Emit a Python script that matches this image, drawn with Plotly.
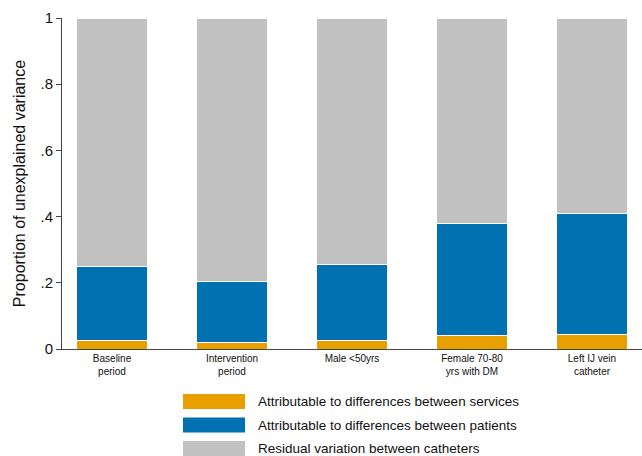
import plotly.graph_objects as go

categories = ["Baseline<br>period", "Intervention<br>period", "Male &lt;50yrs",
              "Female 70-80<br>yrs with DM", "Left IJ vein<br>catheter"]
services = [0.025, 0.021, 0.027, 0.041, 0.044]
patients_top = [0.248, 0.203, 0.256, 0.378, 0.41]
patients = [t - s for t, s in zip(patients_top, services)]
residual = [1 - t for t in patients_top]

series_names = ["Attributable to differences between services",
                "Attributable to differences between patients",
                "Residual variation between catheters"]
series_colors = ["#E8A000", "#0071B1", "#C1C1C1"]
series_vals = [services, patients, residual]

x = list(range(len(categories)))
fig = go.Figure()
for name, col, vals in zip(series_names, series_colors, series_vals):
    fig.add_trace(go.Bar(x=x, y=vals, name=name, marker=dict(color=col, line=dict(color="white", width=1)),
                         width=0.59, showlegend=False))

fig.update_layout(
    barmode="stack",
    width=642, height=456,
    margin=dict(l=62, r=0, t=18, b=107),
    plot_bgcolor="white", paper_bgcolor="white",
    font=dict(family="Liberation Sans, Arial, sans-serif", color="#111"),
    xaxis=dict(range=[-0.417, 4.417], tickvals=x, ticktext=categories, showline=True,
               linecolor="#444", linewidth=1, ticks="", tickfont=dict(size=10),
               showgrid=False, zeroline=False),
    yaxis=dict(range=[0, 1], tickvals=[0, 0.2, 0.4, 0.6, 0.8, 1],
               ticktext=["0", ".2", ".4", ".6", ".8", "1"], showline=True, linecolor="#444",
               linewidth=1, ticks="outside", ticklen=5, tickcolor="#444", tickfont=dict(size=15),
               showgrid=False, zeroline=False,
               title=dict(text="Proportion of unexplained variance", font=dict(size=16), standoff=10)),
)

# custom legend below the plot (paper coordinates)
plot_h = 331.0
plot_w = 580.0
centers_px = [401.5, 425, 448.5]
for name, col, cy in zip(series_names, series_colors, centers_px):
    y0 = (349 - (cy + 7.5)) / plot_h
    y1 = (349 - (cy - 7.5)) / plot_h
    fig.add_shape(type="rect", xref="paper", yref="paper",
                  x0=(183 - 62) / plot_w, x1=(245 - 62) / plot_w, y0=y0, y1=y1,
                  fillcolor=col, line=dict(width=0))
    fig.add_annotation(xref="paper", yref="paper", x=(256 - 62) / plot_w, y=(349 - cy) / plot_h,
                       text=name, showarrow=False, xanchor="left", yanchor="middle",
                       font=dict(size=13.5))

fig.write_html("out.html")
